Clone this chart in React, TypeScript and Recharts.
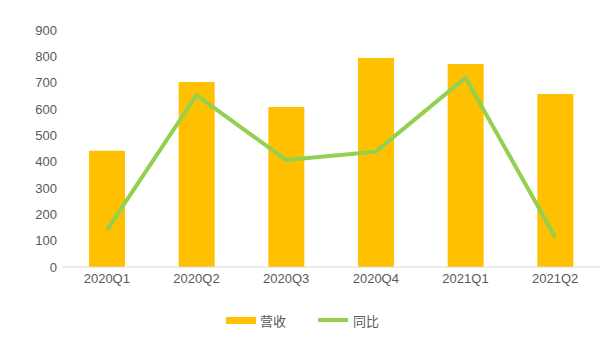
import { ComposedChart, Bar, Line, XAxis, YAxis, Legend } from 'recharts'

// 季度
const quarters = ['2020Q1', '2020Q2', '2020Q3', '2020Q4', '2021Q1', '2021Q2']
// 营收
const revenue = [441, 703, 608, 794, 771, 657]
// 同比
const yoy = [140, 653, 406, 438, 719, 114]
// 纵轴刻度
const yTicks = [0, 100, 200, 300, 400, 500, 600, 700, 800, 900]

const BAR_COLOR = '#FFC000'
const LINE_COLOR = '#92D050'
const TEXT_COLOR = '#595959'
const FONT = '"Liberation Sans", "Noto Sans CJK SC", sans-serif'

const chartData = quarters.map((name, i) => ({
  name,
  revenue: revenue[i],
  yoy: yoy[i],
}))

function LegendContent() {
  return (
    <div
      style={{
        display: 'flex',
        justifyContent: 'center',
        alignItems: 'center',
        height: 20,
        fontFamily: FONT,
        fontSize: 13,
        color: TEXT_COLOR,
        paddingLeft: 5,
      }}
    >
      <span style={{ display: 'inline-block', width: 30, height: 7, background: BAR_COLOR, marginRight: 4 }} />
      <span style={{ marginRight: 32 }}>营收</span>
      <span style={{ display: 'inline-block', width: 30, height: 4, background: LINE_COLOR, marginRight: 5 }} />
      <span>同比</span>
    </div>
  )
}

export default function App() {
  return (
    <div style={{ position: 'absolute', left: 0, top: 0, width: 605, height: 340, background: '#fff' }}>
      <ComposedChart
        width={605}
        height={340}
        data={chartData}
        margin={{ top: 30, right: 5, bottom: 23, left: 0 }}
      >
        <XAxis
          dataKey="name"
          height={30}
          tickLine={false}
          tickSize={0}
          tickMargin={7}
          axisLine={{ stroke: '#d9d9d9' }}
          tick={{ fill: TEXT_COLOR, fontSize: 13, fontFamily: FONT }}
        />
        <YAxis
          width={62}
          domain={[0, 900]}
          ticks={yTicks}
          interval={0}
          axisLine={false}
          tickLine={false}
          tickSize={0}
          tickMargin={5}
          tick={{ fill: TEXT_COLOR, fontSize: 13, fontFamily: FONT }}
        />
        <Legend
          verticalAlign="bottom"
          content={<LegendContent />}
          wrapperStyle={{ bottom: 10 }}
        />
        <Bar dataKey="revenue" name="营收" fill={BAR_COLOR} barSize={36} isAnimationActive={false} />
        <Line
          dataKey="yoy"
          name="同比"
          type="linear"
          stroke={LINE_COLOR}
          strokeWidth={4}
          strokeLinejoin="round"
          dot={false}
          activeDot={false}
          isAnimationActive={false}
        />
      </ComposedChart>
    </div>
  )
}
